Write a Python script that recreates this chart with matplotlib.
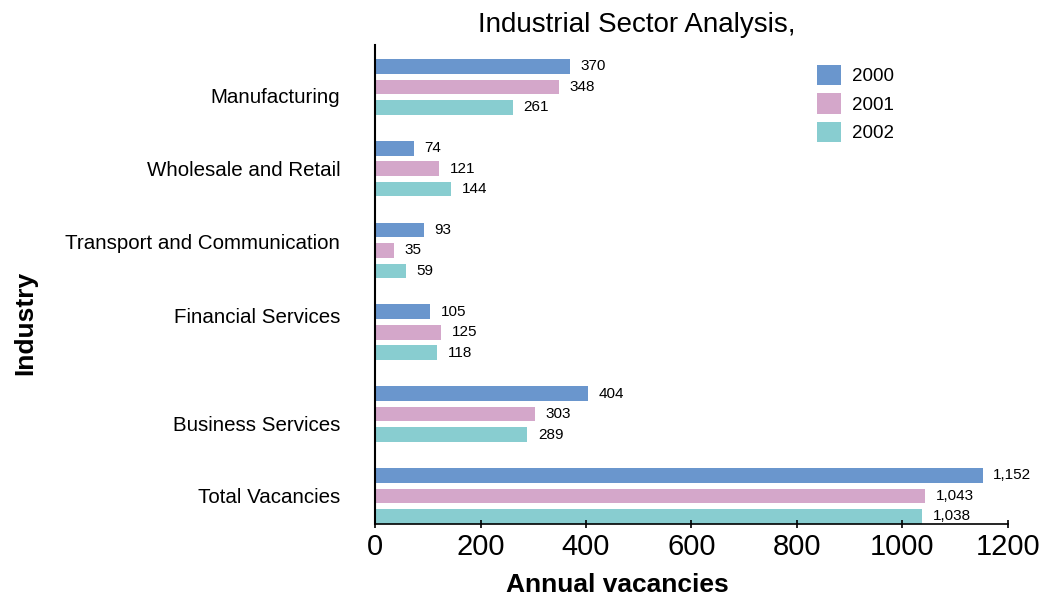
import numpy as np
import matplotlib
matplotlib.use("Agg")
import matplotlib.pyplot as plt

# vacancy counts per industry, one list per year
industries = ["Manufacturing", "Wholesale and Retail", "Transport and Communication",
              "Financial Services", "Business Services", "Total Vacancies"]
years = ["2000", "2001", "2002"]
vac_2000 = [370, 74, 93, 105, 404, 1152]
vac_2001 = [348, 121, 35, 125, 303, 1043]
vac_2002 = [261, 144, 59, 118, 289, 1038]
# small vertical nudges of the category labels relative to their bar groups
label_shift = [0.11, 0.0, -0.11, -0.21, 0.12, 0.0]

colors = ["#6a96cd", "#d4a7ca", "#88cdd0"]
narrow = ["Liberation Sans Narrow", "Liberation Sans", "DejaVu Sans"]
plain = ["Liberation Sans", "DejaVu Sans"]

fig = plt.figure(figsize=(10.39, 6.02), dpi=100)
ax = fig.add_axes([0.361, 0.130, 0.609, 0.795])

pos = np.arange(len(industries))
step = 0.25
height = 0.18
for i, (vals, col) in enumerate(zip([vac_2000, vac_2001, vac_2002], colors)):
    y = pos + (i - 1) * step
    ax.barh(y, vals, height=height, color=col, label=years[i])
    for yy, v in zip(y, vals):
        ax.text(v + 20, yy, f"{v:,}", va="center", ha="left",
                fontsize=11, family=narrow)

ax.set_ylim(pos[-1] + 0.34, pos[0] - 0.51)
ax.set_xlim(0, 1200)
ax.set_xticks(range(0, 1201, 200))
ax.tick_params(axis="x", direction="inout", length=6, width=1.2, labelsize=21)
for lab in ax.get_xticklabels():
    lab.set_family(narrow)
ax.set_yticks(pos + np.array(label_shift))
ax.set_yticklabels(industries, fontsize=14.8, family=plain)
ax.tick_params(axis="y", length=0, pad=25)

for side in ["top", "right"]:
    ax.spines[side].set_visible(False)
ax.spines["left"].set_linewidth(1.5)
ax.spines["bottom"].set_linewidth(1.2)

ax.legend(loc="upper left", bbox_to_anchor=(0.671, 0.994), frameon=False,
          handlelength=1.3, handleheight=1.3, labelspacing=0.42,
          handletextpad=0.6, prop={"family": plain, "size": 13.5})

fig.text(0.613, 0.958, "Industrial Sector Analysis,", ha="center", va="center",
         fontsize=20, family=plain)
fig.text(0.594, 0.028, "Annual vacancies", ha="center", va="center",
         fontsize=19, fontweight="bold", family=plain)
fig.text(0.024, 0.463, "Industry", ha="center", va="center", rotation=90,
         fontsize=19, fontweight="bold", family=plain)

fig.savefig("out.png", dpi=100)
